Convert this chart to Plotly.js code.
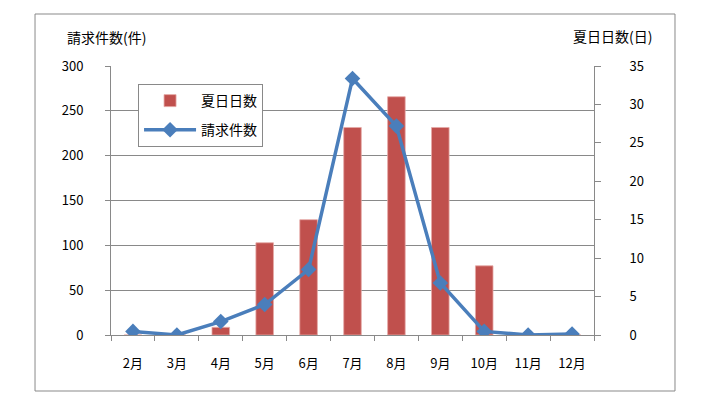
<!DOCTYPE html>
<html>
<head>
<meta charset="utf-8">
<script src="https://cdn.plot.ly/plotly-3.0.1.min.js"></script>
<style>
  html, body { margin: 0; padding: 0; background: #fff; }
  #chart { width: 706px; height: 404px; }
</style>
</head>
<body>
<div id="chart"></div>
<script>
const months = ['2月', '3月', '4月', '5月', '6月', '7月', '8月', '9月', '10月', '11月', '12月'];
const hotDays = [0, 0, 1, 12, 15, 27, 31, 27, 9, 0, 0];          // 夏日日数 (日)
const claims = [4, 0, 15, 34, 73, 286, 233, 58, 4, 0, 1];        // 請求件数 (件)
const barName = '夏日日数';
const lineName = '請求件数';
const leftTitle = '請求件数(件)';
const rightTitle = '夏日日数(日)';

const FONT = "'Noto Sans CJK JP', 'Noto Sans', sans-serif";
const GRAY = '#898989';

const traces = [
  {
    type: 'bar',
    name: barName,
    x: months,
    y: hotDays,
    yaxis: 'y',
    width: 0.4,
    marker: { color: '#C0504D', line: { color: '#E6A8A6', width: 0.8 } },
    legendgroup: 'a'
  },
  {
    type: 'scatter',
    mode: 'lines+markers',
    name: lineName,
    x: months,
    y: claims,
    yaxis: 'y2',
    line: { color: '#4A7EBB', width: 3.5 },
    marker: { symbol: 'diamond', size: 12, color: '#4A7EBB' },
    legendgroup: 'b'
  }
];

const layout = {
  width: 706,
  height: 404,
  margin: { l: 111, r: 112, t: 66, b: 69 },
  paper_bgcolor: '#fff',
  plot_bgcolor: '#fff',
  font: { family: FONT, size: 13, color: '#000' },
  showlegend: true,
  legend: {
    x: 0.056, y: 0.933, xanchor: 'left', yanchor: 'top',
    bordercolor: GRAY, borderwidth: 1, bgcolor: '#fff',
    font: { family: FONT, size: 14, color: '#000' },
    traceorder: 'grouped', tracegroupgap: 8,
    itemwidth: 52
  },
  xaxis: {
    type: 'category',
    range: [-0.5, months.length - 0.5],
    showline: true, linecolor: GRAY, linewidth: 1,
    ticks: 'outside', tickson: 'boundaries', ticklen: 5, tickcolor: GRAY,
    showgrid: false, zeroline: false,
    ticklabelstandoff: 16,
    tickfont: { family: FONT, size: 13, color: '#000' }
  },
  yaxis: {
    side: 'right',
    range: [0, 35], dtick: 5, tick0: 0,
    showline: true, linecolor: GRAY, linewidth: 1,
    ticks: 'outside', ticklen: 6, tickcolor: GRAY,
    showgrid: false, zeroline: false,
    ticklabelstandoff: 26,
    tickfont: { family: FONT, size: 13, color: '#000' }
  },
  yaxis2: {
    overlaying: 'y', side: 'left',
    range: [0, 300], dtick: 50, tick0: 0,
    showline: true, linecolor: GRAY, linewidth: 1,
    ticks: 'outside', ticklen: 5, tickcolor: GRAY,
    showgrid: true, gridcolor: GRAY, gridwidth: 1, zeroline: false,
    ticklabelstandoff: 19,
    tickfont: { family: FONT, size: 13, color: '#000' }
  },
  shapes: [
    {
      type: 'rect', xref: 'paper', yref: 'paper', layer: 'below',
      x0: -0.1573, x1: 1.1677, y0: -0.2082, y1: 1.1933,
      line: { color: GRAY, width: 1 }, fillcolor: 'rgba(0,0,0,0)'
    }
  ],
  annotations: [
    { text: leftTitle, xref: 'paper', yref: 'paper', x: (65 - 111) / 483, y: (335 - 37) / 269,
      xanchor: 'left', yanchor: 'middle', showarrow: false, font: { family: FONT, size: 14, color: '#000' } },
    { text: rightTitle, xref: 'paper', yref: 'paper', x: (571 - 111) / 483, y: (335 - 36) / 269,
      xanchor: 'left', yanchor: 'middle', showarrow: false, font: { family: FONT, size: 14, color: '#000' } }
  ]
};

Plotly.newPlot('chart', traces, layout, { displayModeBar: false, staticPlot: true });
</script>
</body>
</html>
